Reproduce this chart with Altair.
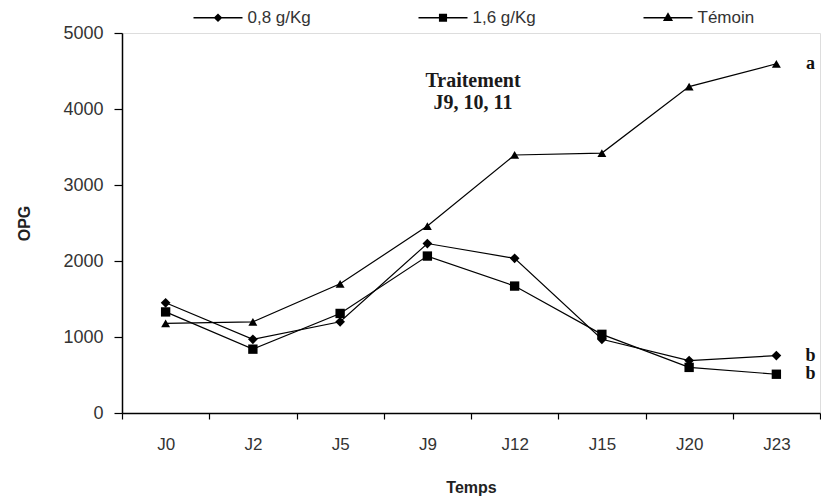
import altair as alt
import pandas as pd

days = ["J0", "J2", "J5", "J9", "J12", "J15", "J20", "J23"]
series_names = ["0,8 g/Kg", "1,6 g/Kg", "Témoin"]
dose_08 = [1450, 970, 1200, 2230, 2035, 970, 690, 755]
dose_16 = [1330, 840, 1310, 2065, 1670, 1035, 600, 510]
temoin = [1180, 1200, 1700, 2460, 3395, 3420, 4295, 4595]
end_letters = ["b", "b", "a"]
note_lines = ["Traitement", "J9, 10, 11"]
note_values = [4370, 4080]
y_ticks = [0, 1000, 2000, 3000, 4000, 5000]

rows = []
for name, vals in zip(series_names, [dose_08, dose_16, temoin]):
    for d, v in zip(days, vals):
        rows.append({"day": d, "opg": v, "serie": name})
df = pd.DataFrame(rows)

letters_df = pd.DataFrame({
    "day": [days[-1]] * 3,
    "opg": [dose_08[-1], dose_16[-1], temoin[-1]],
    "letter": end_letters,
})
note_df = pd.DataFrame({"day": ["J9", "J9"], "opg": note_values, "txt": note_lines})

LABEL_FONT = "Liberation Sans"
SERIF = "Liberation Serif"

xscale = alt.Scale(type="band", domain=days, paddingInner=0, paddingOuter=0)
yscale = alt.Scale(domain=[0, 5000], nice=False)

x_axis = alt.Axis(
    title="Temps", tickBand="extent", tickSize=6, labelPadding=17,
    labelFontSize=17, labelFont=LABEL_FONT, labelColor="#333333",
    titleFontSize=16, titleFont=LABEL_FONT, titleFontWeight="bold",
    titleColor="#222222", titleY=66, domainColor="black", tickColor="black",
    domainWidth=1.5, tickWidth=1.2, labelAngle=0, grid=False,
)
y_axis = alt.Axis(
    title="OPG", values=y_ticks, format="d", tickSize=8, labelPadding=11,
    labelFontSize=18, labelFont=LABEL_FONT, labelColor="#333333",
    titleFontSize=16, titleFont=LABEL_FONT, titleFontWeight="bold",
    titleColor="#222222", titleX=-90, domainColor="black", tickColor="black",
    domainWidth=1.5, tickWidth=1.2, grid=False,
)

X = alt.X("day:N", sort=days, scale=xscale, axis=x_axis)
Y = alt.Y("opg:Q", scale=yscale, axis=y_axis)

lines = alt.Chart(df).mark_line(color="black", strokeWidth=1.2).encode(
    x=X, y=Y, detail="serie:N", order=alt.Order("idx:Q")
).transform_calculate(idx="indexof(" + str(days) + ", datum.day)")

points = alt.Chart(df).mark_point(filled=True, color="black", opacity=1).encode(
    x=X, y=Y,
    shape=alt.Shape("serie:N", scale=alt.Scale(domain=series_names,
                    range=["diamond", "square", "triangle-up"]), legend=None),
    size=alt.Size("serie:N", scale=alt.Scale(domain=series_names, range=[95, 80, 120]),
                  legend=None),
)

leg_paths = [
    "M-3.5,-0.1H3.5V0.1H-3.5ZM0,-0.62L0.62,0L0,0.62L-0.62,0Z",
    "M-3.5,-0.1H3.5V0.1H-3.5ZM-0.58,-0.58H0.58V0.58H-0.58Z",
    "M-3.5,-0.1H3.5V0.1H-3.5ZM0,-0.8L0.72,0.45H-0.72Z",
]
legend_layer = alt.Chart(df).mark_point(
    fill="black", stroke="black", strokeWidth=1, opacity=0
).encode(
    x=X, y=Y,
    shape=alt.Shape("serie:N", scale=alt.Scale(domain=series_names, range=leg_paths),
                    legend=alt.Legend(
                        title=None, orient="none", legendX=70, legendY=-24,
                        direction="horizontal", symbolSize=196, symbolOffset=17.5,
                        labelOffset=21, columnPadding=106, labelFontSize=17,
                        labelFont=LABEL_FONT, labelColor="#333333",
                        symbolOpacity=1, symbolFillColor="black",
                        symbolStrokeColor="black", symbolStrokeWidth=0.5,
                    )),
)

letters = alt.Chart(letters_df).mark_text(
    font=SERIF, fontWeight="bold", fontSize=18, dx=34, align="center",
    baseline="middle", color="#111111"
).encode(x=X, y=Y, text="letter:N")

note = alt.Chart(note_df).mark_text(
    font=SERIF, fontWeight="bold", fontSize=20, align="center",
    baseline="middle", color="#1a1a1a", dx=2
).encode(
    x=alt.X("day:N", sort=days, scale=xscale, axis=x_axis, bandPosition=1),
    y=Y, text="txt:N",
)

chart = alt.layer(lines, points, legend_layer, letters, note).resolve_scale(
    shape="independent", size="independent"
).properties(
    width=698, height=380,
    autosize=alt.AutoSizeParams(type="none"),
    padding={"left": 114, "top": 25, "right": 1, "bottom": 83},
).configure_view(stroke=None).configure(background="white")

chart.save("out.html", embed_options={"renderer": "svg", "actions": False})
